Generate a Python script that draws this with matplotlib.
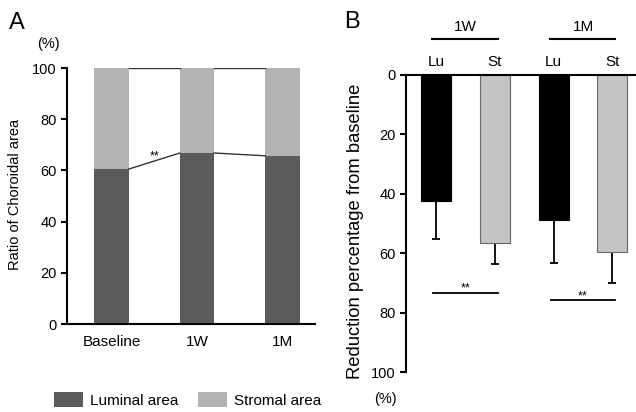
import matplotlib
matplotlib.use("Agg")
import matplotlib.pyplot as plt
from matplotlib.patches import Patch

plt.rcParams['font.family'] = ['Liberation Sans', 'DejaVu Sans']

# Panel A data
a_categories = ["Baseline", "1W", "1M"]
luminal = [60.5, 66.8, 65.7]
stromal = [39.5, 33.2, 34.3]

# Panel B data
b_labels = ["Lu", "St", "Lu", "St"]
b_groups = ["1W", "1M"]
reduction = [42.4, 56.5, 48.8, 59.7]
reduction_err = [12.8, 7.2, 14.6, 10.4]

c_lum = "#5b5b5b"
c_str = "#b3b3b3"

fig = plt.figure(figsize=(6.36, 4.12), dpi=100)

# ---------- Panel A ----------
axA = fig.add_axes([67/636, 1-324/412, (315-67)/636, (324-68)/412])
w = 0.4
xs = list(range(len(a_categories)))
axA.bar(xs, luminal, width=w, color=c_lum, edgecolor='none', zorder=2)
axA.bar(xs, stromal, width=w, bottom=luminal, color=c_str, edgecolor='none', zorder=2)
for i in range(len(xs) - 1):
    axA.plot([xs[i] + w/2, xs[i+1] - w/2], [luminal[i], luminal[i+1]], color='#333333', lw=1)
    axA.plot([xs[i] + w/2, xs[i+1] - w/2], [100, 100], color='#333333', lw=1)
axA.text((xs[0] + xs[1]) / 2, (luminal[0] + luminal[1]) / 2 - 0.5, "**", ha='center', va='bottom', fontsize=9)
axA.set_xlim(-0.52, 2.38)
axA.set_ylim(0, 100)
axA.set_yticks([0, 20, 40, 60, 80, 100])
axA.set_xticks(xs)
axA.set_xticklabels(a_categories)
axA.tick_params(axis='x', length=0, pad=8, labelsize=11)
axA.tick_params(axis='y', length=4, width=1.5, labelsize=10.5)
for s in ['top', 'right']:
    axA.spines[s].set_visible(False)
for s in ['left', 'bottom']:
    axA.spines[s].set_linewidth(1.5)
fig.text(15/636, 1-194/412, "Ratio of Choroidal area", rotation=90, ha='center', va='center',
         fontsize=10.5)
fig.text(48/636, 1-44/412, "(%)", ha='center', va='center', fontsize=10.5)
fig.text(17/636, 1-23/412, "A", ha='center', va='center', fontsize=17)

legend_handles = [Patch(facecolor=c_lum, edgecolor='none', label="Luminal area"),
                  Patch(facecolor=c_str, edgecolor='none', label="Stromal area")]
fig.legend(handles=legend_handles, loc='center', bbox_to_anchor=(188/636, 1-400/412), ncol=2,
           frameon=False, fontsize=11, handlelength=1.85, handleheight=1.15, columnspacing=1.3,
           handletextpad=0.5)

# ---------- Panel B ----------
axB = fig.add_axes([406/636, 1-372/412, (636-406)/636, (372-75)/412])
bw = 0.51
bx = list(range(len(b_labels)))
colors = ['black', '#c4c4c4', 'black', '#c4c4c4']
edges = ['black', '#666666', 'black', '#666666']
for i in bx:
    axB.bar(i, reduction[i], width=bw, color=colors[i], edgecolor=edges[i], lw=0.8, zorder=2)
    axB.errorbar(i, reduction[i], yerr=[[0], [reduction_err[i]]], fmt='none', ecolor='black',
                 elinewidth=1.3, capsize=3, capthick=1.3, zorder=1)
axB.set_xlim(-0.51, 3.4)
axB.set_ylim(100, 0)
axB.set_yticks([0, 20, 40, 60, 80, 100])
axB.xaxis.tick_top()
axB.set_xticks(bx)
axB.set_xticklabels(b_labels)
axB.tick_params(axis='x', length=0, pad=4, labelsize=11)
axB.tick_params(axis='y', length=4, width=1.5, labelsize=10.5)
for s in ['bottom', 'right']:
    axB.spines[s].set_visible(False)
for s in ['left', 'top']:
    axB.spines[s].set_linewidth(1.5)
fig.text(355/636, 1-231/412, "Reduction percentage from baseline", rotation=90, ha='center', va='center', fontsize=13.2)

# significance bars
sig_y = [73.3, 75.8]
for g, (i0, i1) in enumerate([(0, 1), (2, 3)]):
    axB.plot([i0 - 0.05, i1 + 0.05], [sig_y[g], sig_y[g]], color='black', lw=1.3, clip_on=False)
    axB.text((i0 + i1) / 2, sig_y[g] + 0.7, "**", ha='center', va='bottom', fontsize=9)

# group labels on top
for g, (i0, i1) in enumerate([(0, 1), (2, 3)]):
    axB.plot([i0 - 0.07, i1 + 0.05], [-12, -12], color='black', lw=1.5, clip_on=False)
    axB.text((i0 + i1) / 2, -13.8, b_groups[g], ha='center', va='bottom', fontsize=11)

fig.text(385/636, 1-399/412, "(%)", ha='center', va='center', fontsize=10.5)
fig.text(352/636, 1-22/412, "B", ha='center', va='center', fontsize=17)

fig.savefig("out.png", dpi=100)
